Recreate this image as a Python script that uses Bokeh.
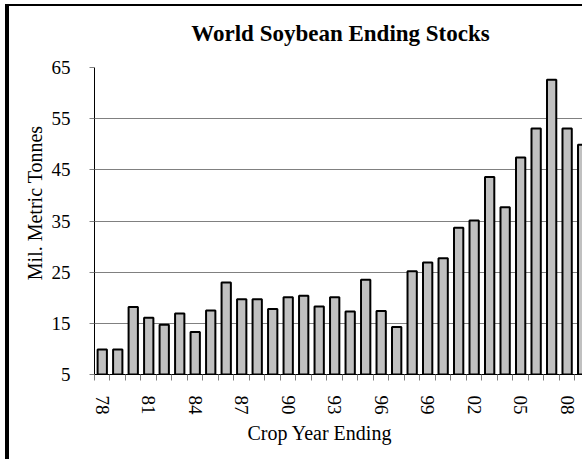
from bokeh.plotting import figure
from bokeh.models import Range1d, FixedTicker, Title
from bokeh.embed import file_html
from bokeh.resources import INLINE

# ---- data ----
years = list(range(1978, 2010))
stocks = [9.9, 9.9, 18.2, 16.1, 14.7, 16.9, 13.3, 17.5, 23.0, 19.7,
          19.7, 17.8, 20.1, 20.4, 18.3, 20.1, 17.3, 23.5, 17.4, 14.3,
          25.2, 26.9, 27.7, 33.7, 35.1, 43.6, 37.7, 47.4, 53.1, 62.6,
          53.1, 49.9]
tick_years = [1978, 1981, 1984, 1987, 1990, 1993, 1996, 1999, 2002, 2005, 2008]
tick_labels = ["78", "81", "84", "87", "90", "93", "96", "99", "02", "05", "08"]
y_ticks = [5, 15, 25, 35, 45, 55, 65]
Y_MIN, Y_MAX = 5, 65

SERIF = "Liberation Serif"

p = figure(width=577, height=455, output_backend="svg", toolbar_location=None,
           x_range=Range1d(1977.5, 2009.25), y_range=Range1d(Y_MIN, Y_MAX),
           min_border_left=85, min_border_top=61, min_border_bottom=87,
           min_border_right=0)
p.styles = {"border-left": "4px solid black", "border-top": "2px solid black",
            "margin-left": "5px", "margin-top": "4px"}
p.outline_line_color = None
p.background_fill_color = "white"
p.border_fill_color = "white"

# spacer between frame and title
spacer = Title(text=" ", text_font_size="1px", standoff=17)
p.add_layout(spacer, "above")

p.title.text = "World Soybean Ending Stocks"
p.title.align = "center"
p.title.text_font = SERIF
p.title.text_font_size = "23px"
p.title.text_font_style = "bold"
p.title.text_color = "black"
p.title.standoff = 4

p.vbar(x=years, top=stocks, bottom=Y_MIN, width=0.6,
       fill_color="#C0C0C0", line_color="black", line_width=2)

# y axis
p.yaxis.ticker = FixedTicker(ticks=y_ticks)
p.yaxis.axis_line_color = "black"
p.yaxis.major_tick_line_color = "#808080"
p.yaxis.major_tick_out = 5
p.yaxis.major_tick_in = 0
p.yaxis.minor_tick_line_color = None
p.yaxis.major_label_text_font = SERIF
p.yaxis.major_label_text_font_size = "19px"
p.yaxis.major_label_text_color = "black"
p.yaxis.major_label_standoff = 19
p.ygrid.grid_line_color = "#808080"
p.ygrid.ticker = FixedTicker(ticks=y_ticks)
p.xgrid.grid_line_color = None

# x axis
p.xaxis.ticker = FixedTicker(ticks=tick_years,
                             minor_ticks=[y - 0.5 for y in years] + [years[-1] + 0.5])
p.xaxis.major_label_overrides = {y: l for y, l in zip(tick_years, tick_labels)}
p.xaxis.major_label_orientation = "vertical"
p.xaxis.axis_line_color = "black"
p.xaxis.major_tick_out = 0
p.xaxis.major_tick_in = 0
p.xaxis.major_tick_line_color = None
p.xaxis.minor_tick_out = 6
p.xaxis.minor_tick_in = 0
p.xaxis.minor_tick_line_color = "#808080"
p.xaxis.major_label_text_font = SERIF
p.xaxis.major_label_text_font_size = "19px"
p.xaxis.major_label_text_color = "black"
p.xaxis.major_label_standoff = 15

# axis titles
xt = Title(text="Crop Year Ending", align="left", offset=153, standoff=5,
           text_font=SERIF, text_font_size="20px", text_font_style="normal",
           text_color="black")
p.add_layout(xt, "below")
yt = Title(text="Mil. Metric Tonnes", align="right", offset=58, standoff=6,
           text_font=SERIF, text_font_size="20px", text_font_style="normal",
           text_color="black")
p.add_layout(yt, "left")

open("out.html", "w").write(file_html(p, INLINE))
